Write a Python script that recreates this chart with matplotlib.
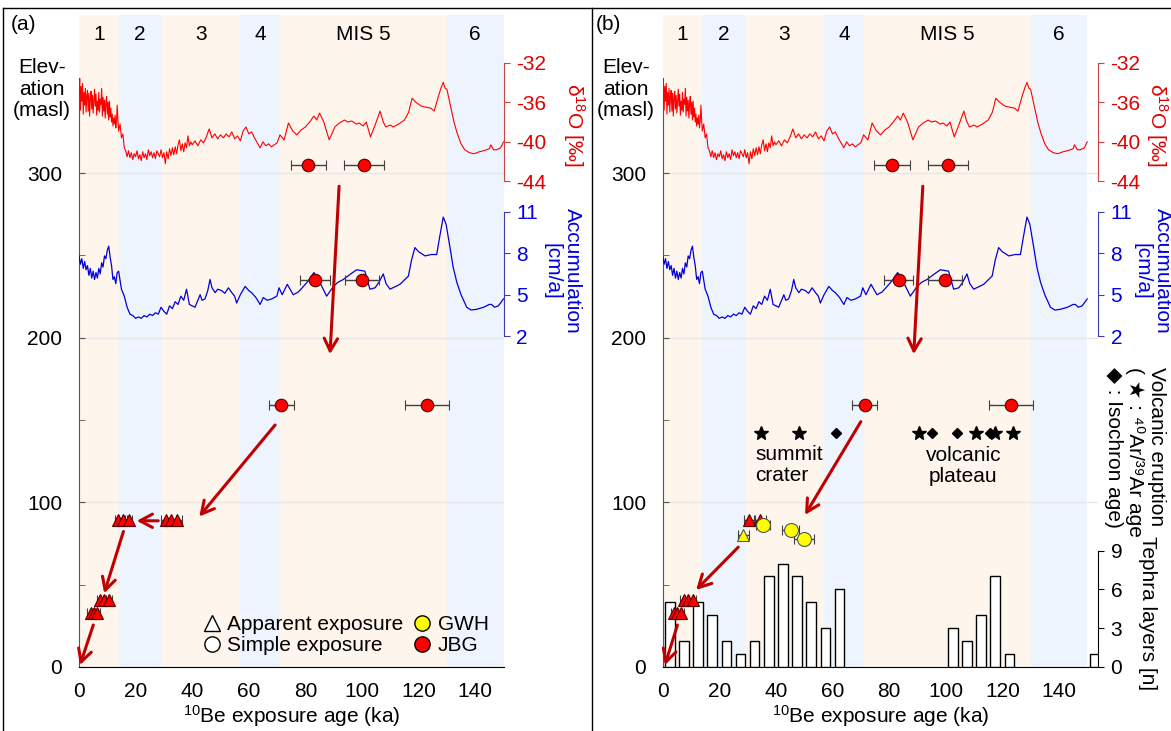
import numpy as np
import matplotlib
matplotlib.use('Agg')
import matplotlib.pyplot as plt
from matplotlib.lines import Line2D

plt.rcParams['font.family'] = ['Liberation Sans', 'DejaVu Sans']
plt.rcParams['font.size'] = 15
plt.rcParams['axes.unicode_minus'] = False
plt.rcParams['mathtext.fontset'] = 'custom'
plt.rcParams['mathtext.rm'] = 'Liberation Sans'
plt.rcParams['mathtext.it'] = 'Liberation Sans:italic'

# MIS stages
mis_edges = [0, 14, 29, 57, 71, 130, 150]
mis_names = ['1', '2', '3', '4', 'MIS 5', '6']
mis_mid = [7, 21.5, 43, 64, 100.5, 140]
band_colors = ['#fef5ec', '#eef4fd']

# d18O record (permil)
d18o_age_1 = np.arange(0, 14, 0.25)
d18o_1 = [-35.2, -33.6, -36.8, -34.4, -35.9, -34.1, -37.2, -35.0,
          -36.3, -34.6, -37.0, -35.4, -34.8, -36.9, -35.1, -37.4,
          -35.6, -34.9, -36.7, -35.3, -37.1, -35.8, -34.7, -36.4,
          -35.2, -37.3, -35.9, -36.8, -35.0, -37.0, -35.7, -36.2,
          -34.6, -37.4, -35.5, -36.9, -35.8, -37.6, -36.1, -35.4,
          -37.2, -36.0, -37.8, -35.9, -37.5, -36.6, -38.0, -37.2,
          -38.4, -37.6, -38.2, -37.3, -38.6, -37.9, -36.3, -37.8]
d18o_age_2 = np.arange(14, 40, 0.5)
d18o_2 = [-38.9, -38.2, -39.6, -39.2, -40.6, -40.9, -41.5, -40.9, -41.6, -41.1,
          -41.8, -41.2, -41.5, -40.9, -41.7, -41.3, -41.9, -41.0, -41.6, -41.2,
          -41.8, -40.8, -41.4, -41.0, -41.6, -41.1, -41.7, -40.9, -41.2, -41.5,
          -40.8, -41.6, -41.1, -42.2, -41.0, -41.7, -40.7, -41.4, -40.6, -41.3,
          -40.5, -41.2, -40.3, -39.8, -40.9, -40.2, -41.0, -40.1, -40.6, -39.4,
          -40.4, -40.0]
d18o_age_3 = np.arange(40, 71, 1)
d18o_3 = [-40.3, -39.9, -40.4, -39.8, -40.1, -39.5, -38.7, -39.6, -39.2, -39.7,
          -39.3, -39.6, -39.2, -39.5, -39.0, -39.7, -39.4, -39.9, -38.9, -38.5,
          -39.2, -39.0, -39.6, -40.1, -40.6, -40.0, -40.4, -40.2, -40.5, -40.3,
          -40.1]
d18o_age_4 = [71, 72.5, 74, 75.5, 77, 78.5, 80, 81.5, 83, 84, 85, 86.5, 88.4, 90.4,
              92, 93.8, 95, 96.4, 98, 99, 100.4, 101.5, 103, 104.5, 106.4, 107.5,
              108.4, 110, 111, 113, 115, 116.5, 117.7, 119, 121, 122.5, 124.3,
              125.5, 127, 128, 128.7, 129.4, 130, 131.6, 132.5, 133.6, 135, 136.3,
              138, 139.6, 141.5, 143, 145, 145.5, 146.5, 147.6, 149, 150]
d18o_4 = [-39.3, -39.8, -38.1, -38.9, -39.3, -38.8, -38.5, -38.0, -37.4, -37.8,
          -37.1, -38.0, -39.8, -38.5, -38.1, -37.8, -38.0, -37.9, -38.2, -38.1,
          -38.4, -38.0, -39.5, -38.4, -36.9, -38.0, -38.5, -38.3, -38.5, -38.2,
          -37.8, -37.0, -35.6, -36.0, -36.4, -36.5, -36.6, -36.9, -35.4, -34.5,
          -34.0, -34.6, -34.7, -36.8, -38.0, -39.1, -40.2, -40.8, -41.1, -41.2,
          -41.0, -40.9, -40.7, -40.3, -40.8, -40.8, -40.6, -40.0]

# accumulation record (cm/a)
acc_age_1 = np.arange(0, 14, 0.5)
acc_1 = [7.8, 7.2, 7.6, 6.9, 7.4, 6.8, 7.1, 6.4, 6.9, 6.2, 6.7, 6.1, 6.6, 6.2,
         6.9, 6.5, 7.3, 7.0, 7.8, 7.6, 8.2, 8.5, 7.7, 7.1, 6.1, 6.3, 5.8, 6.6]
acc_age_2 = np.arange(14, 41, 1)
acc_2 = [6.7, 5.4, 4.9, 4.1, 3.6, 3.5, 3.3, 3.4, 3.3, 3.5, 3.4, 3.6, 3.5, 3.7,
         3.6, 4.1, 3.8, 3.6, 4.2, 4.0, 4.5, 4.3, 4.9, 4.6, 5.4, 4.3, 4.2]
acc_age_3 = [41, 42, 42.8, 43.5, 44.5, 45.5, 46.3, 47, 48.1, 49, 50.4, 51.5, 52.8,
             54, 55, 55.7, 57, 58.7, 60, 61, 62.5, 64, 65.1, 66.5, 68.1, 69.9,
             70.7, 71.8, 73.6, 74.6, 75.7, 77.5, 79.3, 81, 83, 84.5, 85.8, 87.5,
             89.9, 91.5, 93.4, 96, 98.1, 101, 102.8, 104.6, 106, 107.5, 108.5,
             109.9, 113.4, 116.4, 117.5, 118.7, 120, 122.3, 124.5, 126.4, 127.3,
             128.7, 129.7, 131.1, 132.2, 133.5, 135, 137, 138.5, 140.5, 143, 145,
             145.8, 146.8, 148.2, 150]
acc_3 = [4.1, 4.6, 5.0, 4.6, 4.7, 5.3, 6.1, 5.5, 5.15, 5.4, 5.3, 5.1, 5.5,
         5.15, 4.9, 4.4, 5.0, 5.6, 5.3, 5.15, 4.8, 4.3, 4.8, 4.6, 4.7, 4.9,
         5.5, 5.0, 5.75, 5.4, 5.0, 5.2, 5.6, 6.0, 6.6, 6.1, 5.6, 4.9,
         5.6, 5.9, 6.1, 6.5, 6.8, 6.7, 5.4, 5.5, 5.9, 6.5, 5.8,
         5.4, 5.75, 6.35, 7.5, 8.4, 8.1, 7.8, 7.9, 7.9, 9.0,
         10.6, 10.1, 8.4, 7.0, 5.9, 5.0, 4.1, 3.9, 3.95, 4.1, 4.3,
         4.3, 4.1, 4.2, 4.7]

d18o_age = np.concatenate([d18o_age_1, d18o_age_2, d18o_age_3, d18o_age_4])
d18o = np.concatenate([d18o_1, d18o_2, d18o_3, d18o_4])
acc_age = np.concatenate([acc_age_1, acc_age_2, acc_age_3])
acc = np.concatenate([acc_1, acc_2, acc_3])

# JBG simple exposure ages (circles)
jbg_simple_age = [81.0, 100.7, 83.4, 99.9, 71.4, 123.0]
jbg_simple_err = [6.2, 7.0, 5.2, 6.0, 4.4, 7.8]
jbg_simple_elev = [305, 305, 235, 235, 159, 159]

# JBG apparent exposure ages (triangles)
jbg_app_age_a = [13.9, 15.6, 17.5, 30.6, 32.5, 34.5, 7.4, 9.0, 10.6, 4.1, 5.2, 6.3]
jbg_app_elev_a = [89, 89, 89, 89, 89, 89, 40.5, 40.5, 40.5, 32.6, 32.6, 32.6]
jbg_app_err_a = [1.3, 1.3, 1.3, 1.8, 1.8, 1.8, 1.2, 1.2, 1.2, 1.2, 1.2, 1.2]
jbg_app_age_b = [30.6, 34.4, 7.4, 9.0, 10.6, 4.1, 5.2, 6.3]
jbg_app_elev_b = [89.5, 89.5, 40.5, 40.5, 40.5, 32.6, 32.6, 32.6]
jbg_app_err_b = [2.0, 2.0, 1.2, 1.2, 1.2, 1.2, 1.2, 1.2]

# GWH (panel b)
gwh_app_age = [28.5]
gwh_app_elev = [80.2]
gwh_app_err = [2.0]
gwh_simple_age = [35.5, 45.2, 50.0]
gwh_simple_elev = [86.3, 83.3, 77.8]
gwh_simple_err = [2.5, 3.0, 3.5]

# volcanic eruptions (panel b)
ar_age = [34.6, 48.3, 90.7, 110.7, 117.3, 123.6]
iso_age = [61.2, 95.0, 104.1, 115.5]
volc_elev = 142.4

# tephra layers per 5 ka bin
tephra_bin = np.arange(0, 155, 5)
tephra_n = [5, 2, 5, 4, 2, 1, 2, 7, 8, 7, 5, 3, 6, 0, 0, 0, 0, 0, 0, 0,
            3, 2, 4, 7, 1, 0, 0, 0, 0, 0, 1]

# arrows (start age, start elev, end age, end elev)
arrows_a = [(91.9, 292, 88.7, 190), (69.3, 147, 42.5, 91.4), (28.0, 88.8, 20.4, 88.8),
            (15.7, 82.3, 8.9, 44.8), (5.05, 25.5, 0.35, 1.2)]
arrows_b = [(91.9, 292, 88.7, 190), (70.0, 149, 50.3, 92.4), (26.7, 72.8, 11.8, 46.8),
            (5.2, 25.5, 0.8, 1.2)]

FW, FH = 1171, 731
fig = plt.figure(figsize=(FW / 100, FH / 100), dpi=100)

RED = '#ff0000'
RED_SP = '#cc4444'
BLUE = '#0000dd'
BLUE_SP = '#3c3cb0'
ARROW = '#c00000'
ELEV_TOP = 396


def base_panel(x0, x1, xmax, off_d, off_a):
    wpx = x1 - x0
    ax = fig.add_axes([x0 / FW, 1 - 667 / FH, wpx / FW, (667 - 15) / FH])
    ax.set_xlim(0, xmax)
    ax.set_ylim(0, ELEV_TOP)
    for i in range(len(mis_names)):
        ax.axvspan(mis_edges[i], mis_edges[i + 1], color=band_colors[i % 2], lw=0, zorder=0)
        ax.text(mis_mid[i], 384, mis_names[i], ha='center', va='center')
    ax.set_yticks([0, 100, 200, 300])
    ax.set_yticks([50, 150, 250], minor=True)
    ax.yaxis.grid(True, color='#e6e6e6', lw=1)
    ax.set_axisbelow(True)
    ax.tick_params(axis='y', which='both', direction='in', length=4, color='#555555', pad=12)
    ax.set_xticks(range(0, 141, 20))
    ax.tick_params(axis='x', length=0, pad=11)
    ax.set_xlabel(r'$^{10}$Be exposure age (ka)', labelpad=1)
    ax.spines['top'].set_visible(False)
    ax.spines['right'].set_visible(False)
    ax.spines['left'].set_color('#555555')
    ax.spines['left'].set_bounds(0, 350)
    ax.text(-37 / wpx, 351, 'Elev-\nation\n(masl)', transform=ax.get_yaxis_transform(),
            ha='center', va='center', multialignment='center', linespacing=1.15)

    # d18O
    tw_d = ax.twinx()
    tw_d.set_ylim(-93.0, -27.2)
    tw_d.plot(d18o_age, d18o, color=RED, lw=0.8)
    for s in ['left', 'top', 'bottom']:
        tw_d.spines[s].set_visible(False)
    tw_d.spines['right'].set_bounds(-44, -32)
    tw_d.spines['right'].set_color(RED_SP)
    tw_d.set_yticks([-44, -40, -36, -32])
    tw_d.tick_params(axis='y', direction='out', length=4, color=RED_SP, labelcolor='#e00000', pad=5)
    tw_d.text(1 + off_d / wpx, -38.3, r'δ$^{18}$O [‰]', transform=tw_d.get_yaxis_transform(),
              rotation=270, ha='center', va='center', color='#e00000')

    # accumulation
    tw_a = ax.twinx()
    tw_a.set_ylim(-21.84, 25.17)
    tw_a.plot(acc_age, acc, color=BLUE, lw=0.9)
    for s in ['left', 'top', 'bottom']:
        tw_a.spines[s].set_visible(False)
    tw_a.spines['right'].set_bounds(2, 11)
    tw_a.spines['right'].set_color(BLUE_SP)
    tw_a.set_yticks([2, 5, 8, 11])
    tw_a.tick_params(axis='y', direction='out', length=4, color=BLUE_SP, labelcolor=BLUE, pad=5)
    tw_a.text(1 + off_a / wpx, 6.7, 'Accumulation\n[cm/a]', transform=tw_a.get_yaxis_transform(),
              rotation=270, ha='center', va='center', multialignment='center', color=BLUE,
              linespacing=1.1)
    return ax, wpx


def points_axes(ax):
    pts = ax.twinx()
    pts.set_ylim(0, ELEV_TOP)
    pts.axis('off')
    return pts


def draw_err(pts, x, y, e, marker, face, ms):
    pts.errorbar(x, y, xerr=e, fmt=marker, mfc=face, mec='#5a0000' if face == RED else '#555555',
                 mew=0.8, ms=ms, ecolor='#404040', elinewidth=1, capsize=3.5, capthick=1)


def draw_arrows(pts, arrows):
    for x0, y0, x1, y1 in arrows:
        pts.annotate('', xy=(x1, y1), xytext=(x0, y0),
                     arrowprops=dict(arrowstyle='->,head_length=0.6,head_width=0.32',
                                     color=ARROW, lw=2.2, shrinkA=0, shrinkB=0))


# ---------------- panel (a)
ax_a, w_a = base_panel(79, 503.5, 150, 70, 59)
pts_a = points_axes(ax_a)
draw_err(pts_a, jbg_app_age_a, jbg_app_elev_a, jbg_app_err_a, '^', RED, 9)
draw_err(pts_a, jbg_simple_age, jbg_simple_elev, jbg_simple_err, 'o', RED, 9)
draw_arrows(pts_a, arrows_a)

handles = [Line2D([], [], ls='', marker='^', mfc='white', mec='black', ms=11, mew=1),
           Line2D([], [], ls='', marker='o', mfc='white', mec='black', ms=11, mew=1),
           Line2D([], [], ls='', marker='o', mfc='#ffff00', mec='black', ms=11, mew=1),
           Line2D([], [], ls='', marker='o', mfc=RED, mec='black', ms=11, mew=1)]
pts_a.legend(handles, ['Apparent exposure', 'Simple exposure', 'GWH', 'JBG'], ncol=2,
             loc='lower right', bbox_to_anchor=(1.0, -0.004), frameon=False, handlelength=0.8,
             handletextpad=0.35, columnspacing=0.5, labelspacing=0.1, borderaxespad=0.3)

# ---------------- panel (b)
ax_b, w_b = base_panel(662.7, 1098, 153.8, 59, 54)
tw_t = ax_b.twinx()
tw_t.set_ylim(0, 50.4)
mask = np.array(tephra_n) > 0
tw_t.bar(tephra_bin[mask] + 2.5, np.array(tephra_n)[mask], width=3.4, color='white',
         edgecolor='black', lw=1)
for s in ['left', 'top', 'bottom']:
    tw_t.spines[s].set_visible(False)
tw_t.spines['right'].set_bounds(0, 9)
tw_t.set_yticks([0, 3, 6, 9])
tw_t.tick_params(axis='y', direction='out', length=4, pad=5)
tw_t.text(1 + 50 / w_b, 4.2, 'Tephra layers [n]', transform=tw_t.get_yaxis_transform(),
          rotation=270, ha='center', va='center')

pts_b = points_axes(ax_b)
draw_err(pts_b, jbg_app_age_b, jbg_app_elev_b, jbg_app_err_b, '^', RED, 9)
draw_err(pts_b, jbg_simple_age, jbg_simple_elev, jbg_simple_err, 'o', RED, 9)
draw_err(pts_b, gwh_app_age, gwh_app_elev, gwh_app_err, '^', '#ffff00', 9)
draw_err(pts_b, gwh_simple_age, gwh_simple_elev, gwh_simple_err, 'o', '#ffff00', 10)
pts_b.plot(ar_age, [volc_elev] * len(ar_age), ls='', marker='*', color='black', ms=10)
pts_b.plot(iso_age, [volc_elev] * len(iso_age), ls='', marker='D', color='black', ms=5)
draw_arrows(pts_b, arrows_b)
pts_b.text(32.7, 122.8, 'summit\ncrater', ha='left', va='center', linespacing=1.15)
pts_b.text(106.2, 122.2, 'volcanic\nplateau', ha='center', va='center', linespacing=1.15)
ax_b.text(1 + 37 / w_b, 182, 'Volcanic eruption\n( ★ : ⁴⁰Ar/³⁹Ar age\n◆ : Isochron age)',
          transform=ax_b.get_yaxis_transform(), rotation=270, ha='center', va='top',
          multialignment='left', linespacing=1.1)

# panel tags and frame
fig.text(11 / FW, 1 - 25 / FH, '(a)', ha='left', va='center')
fig.text(596 / FW, 1 - 25 / FH, '(b)', ha='left', va='center')
for xs, ys in [([3 / FW, 1], [1 - 8 / FH, 1 - 8 / FH]), ([3 / FW, 3 / FW], [0, 1 - 8 / FH]),
               ([592 / FW, 592 / FW], [0, 1 - 8 / FH])]:
    fig.add_artist(Line2D(xs, ys, transform=fig.transFigure, color='black', lw=1))

fig.savefig('out.png', dpi=100)
